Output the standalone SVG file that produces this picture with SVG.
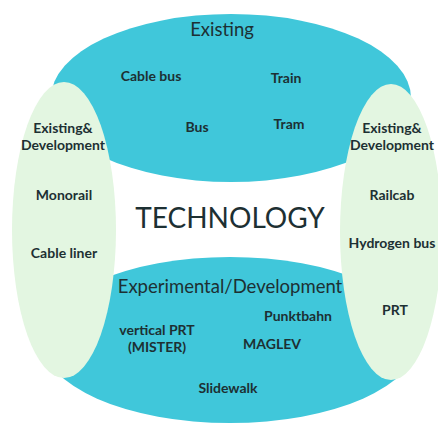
<svg xmlns="http://www.w3.org/2000/svg" width="438" height="423" viewBox="0 0 438 423">
<style>
.blue{fill:#40c7da}
.green{fill:#e3f6e1}
text{font-family:Lato,"Open Sans","Liberation Sans",sans-serif;fill:#1d3033;text-anchor:middle}
.lbl{font-size:14px;font-weight:bold}
.hd{font-size:18.5px}
.big{font-size:28px}
</style>
<rect width="438" height="423" fill="#ffffff"/>
<g id="existing">
<ellipse class="blue" cx="231" cy="98" rx="180" ry="84"/>
<text class="hd" x="222" y="36">Existing</text>
<text class="lbl" x="151" y="81">Cable bus</text>
<text class="lbl" x="286" y="83">Train</text>
<text class="lbl" x="197" y="132">Bus</text>
<text class="lbl" x="289" y="129">Tram</text>
</g>
<g id="experimental">
<ellipse class="blue" cx="230" cy="340" rx="188" ry="83"/>
<text class="hd" x="230" y="293">Experimental/Development</text>
<text class="lbl" x="298" y="321">Punktbahn</text>
<text class="lbl" x="157" y="335">vertical PRT</text>
<text class="lbl" x="157" y="352">(MISTER)</text>
<text class="lbl" x="272" y="349">MAGLEV</text>
<text class="lbl" x="228" y="393">Slidewalk</text>
</g>
<g id="left-existing-development">
<ellipse class="green" cx="64" cy="230" rx="52" ry="148"/>
<text class="lbl" x="63" y="133">Existing&amp;</text>
<text class="lbl" x="63" y="150">Development</text>
<text class="lbl" x="64" y="200">Monorail</text>
<text class="lbl" x="64" y="258">Cable liner</text>
</g>
<g id="right-existing-development">
<ellipse class="green" cx="391" cy="232" rx="51" ry="148"/>
<text class="lbl" x="392" y="133">Existing&amp;</text>
<text class="lbl" x="392" y="150">Development</text>
<text class="lbl" x="392" y="200">Railcab</text>
<text class="lbl" x="392" y="248">Hydrogen bus</text>
<text class="lbl" x="395" y="315">PRT</text>
</g>
<g id="technology">
<text class="big" x="230" y="228">TECHNOLOGY</text>
</g>
</svg>
